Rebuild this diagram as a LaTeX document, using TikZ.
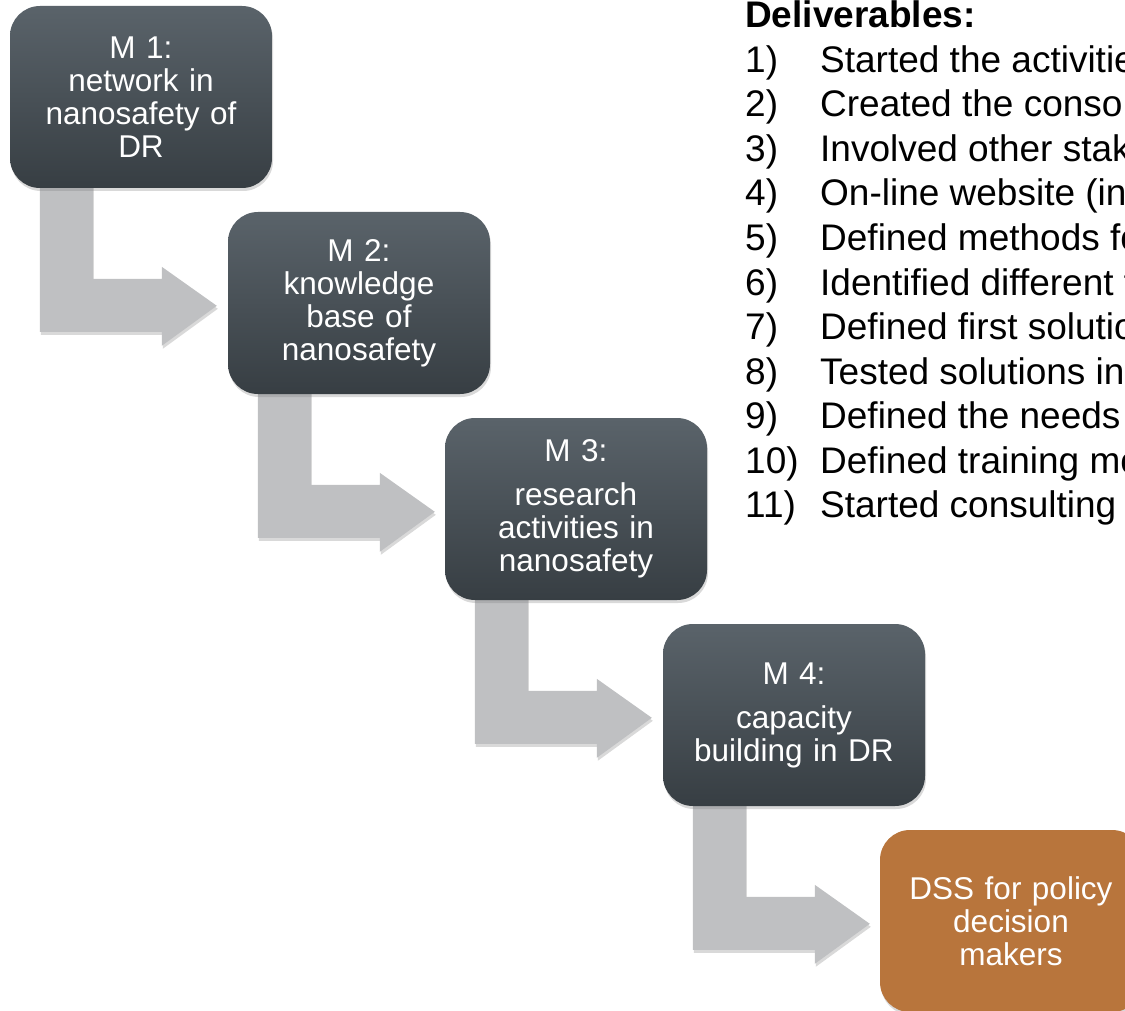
\documentclass[tikz,border=0pt]{standalone}
\usepackage{fontspec}
\setmainfont{Liberation Sans}
\usetikzlibrary{calc,shadows}
\definecolor{boxtop}{RGB}{90,99,106}
\definecolor{boxbot}{RGB}{55,62,67}
\definecolor{arrowgray}{RGB}{191,192,194}
\definecolor{dssorange}{RGB}{184,117,60}
\pgfdeclarelayer{bg}
\pgfsetlayers{bg,main}
\begin{document}
\begin{tikzpicture}[x=1pt, y=-1pt,
  softshadow/.style={drop shadow={opacity=0.3, shadow xshift=1pt, shadow yshift=-3pt}},
  basebox/.style={rounded corners=30pt, minimum width=262pt, minimum height=182pt,
    inner sep=0pt, text width=250pt, align=center, text=white,
    font=\fontsize{31.5}{33}\selectfont, softshadow},
  mbox/.style={basebox, top color=boxtop, bottom color=boxbot},
  dssbox/.style={basebox, fill=dssorange},
  blockarrow/.style={fill=arrowgray, softshadow},
  listfont/.style={font=\fontsize{37}{44}\selectfont, anchor=base west, inner sep=0pt},
]
\path[use as bounding box] (0,0) rectangle (1125,1011);
\clip (0,0) rectangle (1125,1011);

% milestone boxes
\node[mbox] (m1) at (141,97) {M 1:\\network in\\nanosafety of\\DR};
\node[mbox] (m2) at (359,303) {M 2:\\knowledge\\base of\\nanosafety};
\node[mbox] (m3) at (576,509) {M 3:\\[11pt]research\\activities in\\nanosafety};
\node[mbox] (m4) at (794,715) {M 4:\\[11pt]capacity\\building in DR};
\node[dssbox] (m5) at (1011,921) {DSS for policy\\decision\\makers};

% L-shaped block arrows
\begin{pgfonlayer}{bg}
\foreach \a in {m1,m2,m3,m4}{
  \path[blockarrow]
    ($(\a.north west)+(30,170)$) -- ($(\a.north west)+(83,170)$)
    -- ($(\a.north west)+(83,273)$) -- ($(\a.north west)+(152,273)$)
    -- ($(\a.north west)+(152,261)$) -- ($(\a.north west)+(207,300)$)
    -- ($(\a.north west)+(152,340)$) -- ($(\a.north west)+(152,326)$)
    -- ($(\a.north west)+(30,326)$) -- cycle;
}
\end{pgfonlayer}

% deliverables list
\node[listfont, font=\bfseries\fontsize{37}{44}\selectfont] (hdr) at (745,28) {Deliverables:};
\foreach \k/\t in {1/Started the activitie,
                   2/Created the conso,
                   3/Involved other stak,
                   4/On-line website (in,
                   5/Defined methods fo,
                   6/Identified different t,
                   7/Defined first solutio,
                   8/Tested solutions in,
                   9/Defined the needs,
                   10/Defined training mo,
                   11/Started consulting}{
  \node[listfont] (n\k) at (745,28+44.5*\k) {\k)};
  \node[listfont] (d\k) at (820,28+44.5*\k) {\t};
}
\end{tikzpicture}
\end{document}
